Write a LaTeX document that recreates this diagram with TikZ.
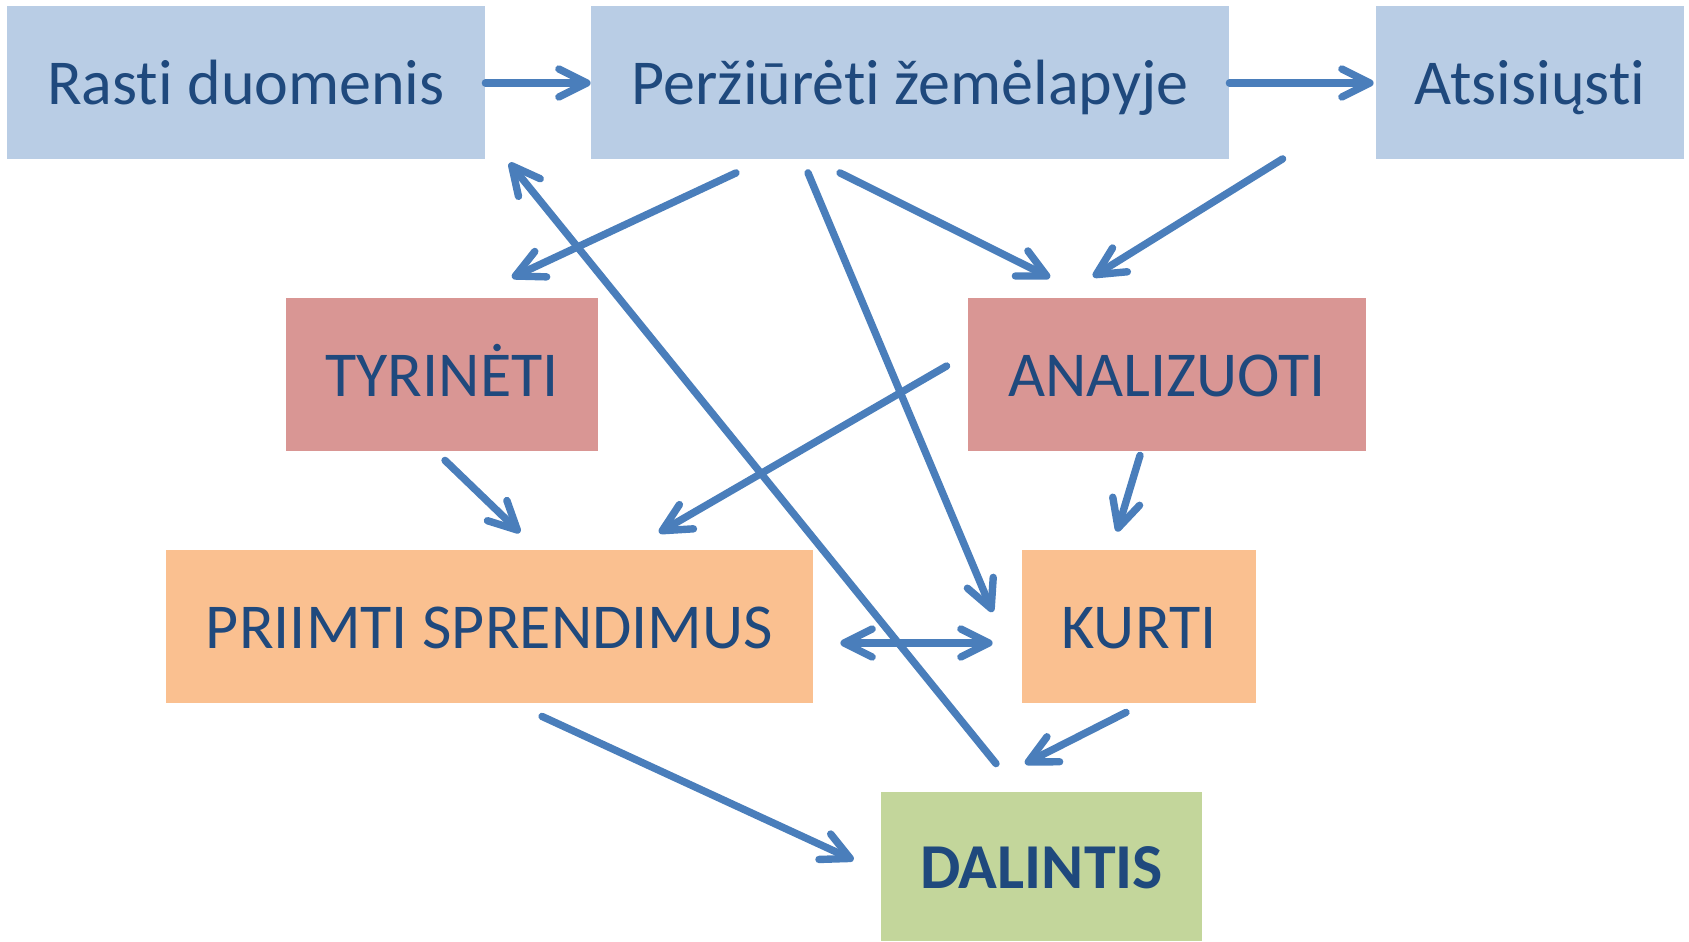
\documentclass[tikz,border=0pt]{standalone}
\usepackage{fontspec}
\setmainfont[Ligatures=NoCommon]{Carlito}
\usepackage{tikz}
\usetikzlibrary{arrows.meta}

\definecolor{txtblue}{RGB}{31,73,125}
\definecolor{lineblue}{RGB}{74,126,187}
\definecolor{boxblue}{RGB}{185,205,229}
\definecolor{boxred}{RGB}{217,150,148}
\definecolor{boxorange}{RGB}{250,192,144}
\definecolor{boxgreen}{RGB}{195,214,155}

\begin{document}
\begin{tikzpicture}[x=0.5pt, y=-0.5pt,
                    every node/.style={inner sep=0pt, minimum height=76.5pt,
                                       text height=24pt, text depth=2.4pt,
                                       text=txtblue, font=\fontsize{32}{38}\selectfont},
                    every edge/.style={draw=lineblue, line width=3.7pt, line cap=round},
                    >={Straight Barb[length=14pt, width=14pt, line cap=round, line join=round]}]

\useasboundingbox (0,0) rectangle (1689,941);

% top row
\node[fill=boxblue, minimum width=239pt] (rasti) at (246,83) {Rasti duomenis};
\node[fill=boxblue, minimum width=319pt] (perz) at (910,83) {Peržiūrėti žemėlapyje};
\node[fill=boxblue, minimum width=154pt] (atsi) at (1530,83) {Atsisiųsti};

% middle rows
\node[fill=boxred, minimum width=156pt] (tyr) at (442,374.5) {TYRINĖTI};
\node[fill=boxred, minimum width=199pt] (anal) at (1167,374.5) {ANALIZUOTI};
\node[fill=boxorange, minimum width=323.5pt] (prii) at (489.5,626.5) {PRIIMTI SPRENDIMUS};
\node[fill=boxorange, minimum width=117pt] (kurti) at (1139,626.5) {KURTI};

% bottom
\node[fill=boxgreen, minimum width=160.5pt, minimum height=74.5pt,
      font=\fontsize{32}{38}\selectfont\bfseries] (dal) at (1041.5,866.5) {DALINTIS};

\path[->]
(rasti.east) edge (perz.west)
(perz.east) edge ([shift={(-2,0)}]atsi.west)
([shift={(-174,13)}]perz.south) edge ([shift={(70,-20)}]tyr.north)
([shift={(-70,13)}]perz.south) edge ([shift={(-117,-20)}]anal.north)
([shift={(-93,-1)}]atsi.south west) edge ([shift={(-74,-21)}]anal.north)
([shift={(-102,13)}]perz.south) edge ([shift={(-29,-14.5)}]kurti.west)
([shift={(-45.5,-28)}]dal.north) edge ([shift={(24,3)}]rasti.south east)
([shift={(3,9)}]tyr.south) edge ([shift={(30.5,-17)}]prii.north)
([shift={(-21,-8.5)}]anal.west) edge ([shift={(169.5,-17)}]prii.north)
([shift={(-27,4)}]anal.south) edge ([shift={(-22,-18)}]kurti.north)
([shift={(-13,9)}]kurti.south) edge ([shift={(-16.5,-28)}]dal.north)
([shift={(52.5,13)}]prii.south) edge ([shift={(-27,-6.5)}]dal.west);

\path[<->]
([shift={(27,16.5)}]prii.east) edge ([shift={(-29,16.5)}]kurti.west);
\end{tikzpicture}
\end{document}
